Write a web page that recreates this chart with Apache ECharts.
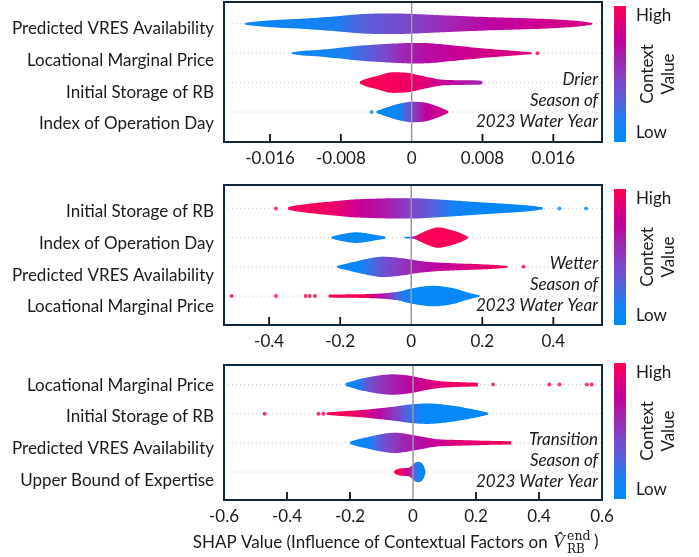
<!DOCTYPE html>
<html>
<head>
<meta charset="utf-8">
<script src="https://cdn.jsdelivr.net/npm/echarts@6/dist/echarts.min.js"></script>
<style>html,body{margin:0;padding:0;background:#fff}#c{width:699px;height:557px}</style>
</head>
<body>
<div id="c"></div>
<script>
// ---------- DATA ----------
const drierFeatures = ['Predicted VRES Availability', 'Locational Marginal Price', 'Initial Storage of RB', 'Index of Operation Day'];
const drierVRES = [[-0.0188,0.1,0.05],[-0.0175,0.22,0.06],[-0.0160,0.33,0.07],[-0.0122,0.5,0.1],[-0.0085,0.73,0.15],[-0.0066,0.88,0.25],[-0.0055,0.95,0.3],[-0.0021,1.0,0.4],[0.0,0.96,0.45],[0.0028,0.85,0.55],[0.0047,0.78,0.62],[0.0085,0.65,0.72],[0.0122,0.55,0.78],[0.0160,0.43,0.82],[0.0190,0.25,0.84],[0.0204,0.08,0.85]];
const drierLMP = [[-0.01355,0.08,0.05],[-0.0125,0.2,0.06],[-0.01035,0.33,0.08],[-0.0073,0.6,0.15],[-0.0066,0.67,0.22],[-0.0028,0.9,0.45],[-0.0013,0.96,0.58],[0.0,1.0,0.64],[0.0017,0.98,0.7],[0.0047,0.75,0.78],[0.0085,0.43,0.83],[0.0115,0.23,0.86],[0.01355,0.08,0.88]];
const drierStorage = [[-0.00584,0.12,0.98],[-0.0052,0.35,0.98],[-0.0041,0.6,0.98],[-0.0021,1.0,0.97],[-0.0006,0.95,0.95],[0.0017,0.55,0.88],[0.0032,0.3,0.8],[0.0047,0.24,0.72],[0.0065,0.22,0.65],[0.0077,0.2,0.6],[0.0080,0.1,0.6]];
const drierDay = [[-0.00395,0.1,0.04],[-0.0028,0.45,0.05],[-0.0013,0.83,0.1],[-0.0007,0.92,0.28],[0.0,1.0,0.42],[0.0009,0.97,0.62],[0.0017,0.88,0.75],[0.0032,0.45,0.83],[0.00413,0.1,0.85]];
const drierViolins = [[drierVRES], [drierLMP], [drierStorage], [drierDay]];
const drierOutliers = [[0.0142,1,0.95],[-0.00452,3,0.05]];
const drierTicks = [-0.016, -0.008, 0, 0.008, 0.016];
const drierTickLabels = ['-0.016', '-0.008', '0', '0.008', '0.016'];

const wetFeatures = ['Initial Storage of RB', 'Index of Operation Day', 'Predicted VRES Availability', 'Locational Marginal Price'];
const wetStorage = [[-0.3465,0.12,0.97],[-0.33,0.25,0.97],[-0.267,0.53,0.96],[-0.21,0.72,0.92],[-0.164,0.87,0.82],[-0.145,0.9,0.78],[-0.07,0.98,0.65],[0.0,1.0,0.45],[0.061,0.9,0.3],[0.117,0.78,0.12],[0.192,0.6,0.05],[0.285,0.4,0.04],[0.34,0.25,0.04],[0.370,0.1,0.04]];
const wetDayLow = [[-0.2246,0.1,0.03],[-0.2,0.3,0.03],[-0.1545,0.52,0.03],[-0.107,0.3,0.03],[-0.0729,0.1,0.03]];
const wetDayHigh = [[-0.0187,0.07,0.04],[-0.005,0.09,0.2],[0.008,0.12,0.7],[0.02,0.3,0.97],[0.045,0.7,0.98],[0.0749,1.0,0.98],[0.117,0.7,0.98],[0.145,0.35,0.98],[0.1592,0.1,0.98]];
const wetVRES = [[-0.2083,0.1,0.04],[-0.19,0.25,0.04],[-0.15,0.58,0.06],[-0.117,0.83,0.22],[-0.0796,1.0,0.38],[-0.0233,0.83,0.53],[0.0235,0.58,0.66],[0.0702,0.43,0.73],[0.136,0.33,0.83],[0.211,0.23,0.92],[0.25,0.15,0.95],[0.2716,0.08,0.97]];
const wetLMP = [[-0.2323,0.15,0.97],[-0.145,0.18,0.97],[-0.117,0.2,0.9],[-0.089,0.24,0.72],[-0.061,0.32,0.5],[-0.033,0.45,0.22],[-0.005,0.7,0.06],[0.061,1.0,0.04],[0.117,0.78,0.04],[0.164,0.3,0.04],[0.192,0.08,0.04]];
const wetViolins = [[wetStorage], [wetDayLow, wetDayHigh], [wetVRES], [wetLMP]];
const wetOutliers = [[-0.381,0,0.97],[0.417,0,0.04],[0.492,0,0.04],[0.3157,2,0.97],[-0.5057,3,0.97],[-0.381,3,0.97],[-0.2969,3,0.97],[-0.2857,3,0.97],[-0.2707,3,0.97]];
const wetTicks = [-0.4, -0.2, 0, 0.2, 0.4];
const wetTickLabels = ['-0.4', '-0.2', '0', '0.2', '0.4'];

const transFeatures = ['Locational Marginal Price', 'Initial Storage of RB', 'Predicted VRES Availability', 'Upper Bound of Expertise'];
const transLMP = [[-0.2136,0.15,0.06],[-0.19,0.35,0.08],[-0.166,0.57,0.18],[-0.1525,0.65,0.3],[-0.113,0.87,0.5],[-0.068,1.0,0.62],[-0.015,0.88,0.72],[0.048,0.5,0.84],[0.08,0.35,0.88],[0.111,0.28,0.92],[0.16,0.22,0.95],[0.2063,0.18,0.97]];
const transStorage = [[-0.274,0.12,0.97],[-0.24,0.2,0.97],[-0.2,0.28,0.96],[-0.163,0.36,0.9],[-0.11,0.52,0.72],[-0.058,0.7,0.5],[-0.015,0.88,0.25],[0.027,0.99,0.06],[0.05,1.0,0.04],[0.085,0.93,0.04],[0.148,0.67,0.04],[0.206,0.33,0.04],[0.238,0.1,0.04]];
const transVRES = [[-0.2,0.12,0.05],[-0.18,0.3,0.05],[-0.142,0.58,0.08],[-0.11,0.8,0.3],[-0.08,0.95,0.45],[-0.058,1.0,0.52],[-0.037,0.95,0.58],[0.016,0.68,0.68],[0.069,0.38,0.78],[0.148,0.28,0.88],[0.238,0.2,0.93],[0.29,0.17,0.96],[0.312,0.15,0.97]];
const transUpper = [[-0.06,0.1,0.97],[-0.048,0.3,0.97],[-0.03,0.38,0.92],[-0.015,0.4,0.78],[-0.005,0.6,0.55],[0.005,0.88,0.3],[0.016,1.0,0.1],[0.027,0.88,0.05],[0.035,0.55,0.04],[0.0396,0.1,0.04]];
const transViolins = [[transLMP], [transStorage], [transVRES], [transUpper]];
const transOutliers = [[0.254,0,0.97],[0.433,0,0.97],[0.465,0,0.97],[0.552,0,0.97],[0.567,0,0.97],[-0.471,1,0.97],[-0.300,1,0.97],[-0.2848,1,0.97]];
const transTicks = [-0.6, -0.4, -0.2, 0, 0.2, 0.4, 0.6];
const transTickLabels = ['-0.6', '-0.4', '-0.2', '0', '0.2', '0.4', '0.6'];

const colorbarLabels = ['High', 'Low'];
const colorbarTitle = ['Context', 'Value'];
const xTitle = 'SHAP Value (Influence of Contextual Factors on ';

// ---------- COLORMAP ----------
const cmapStops = [[0,'#008bfb'],[0.15,'#1a7ff3'],[0.3,'#5760dc'],[0.45,'#7e46c9'],[0.6,'#a126b2'],[0.75,'#bf009e'],[0.88,'#e00079'],[1,'#ff0051']];
function hex2rgb(h){return [parseInt(h.slice(1,3),16),parseInt(h.slice(3,5),16),parseInt(h.slice(5,7),16)];}
function cmap(v){
  v=Math.max(0,Math.min(1,v));
  for(let i=0;i<cmapStops.length-1;i++){
    const a=cmapStops[i],b=cmapStops[i+1];
    if(v<=b[0]){const t=(v-a[0])/(b[0]-a[0]);const ca=hex2rgb(a[1]),cb=hex2rgb(b[1]);
      return 'rgb('+ca.map((c,k)=>Math.round(c+(cb[k]-c)*t)).join(',')+')';}
  }
  return cmapStops[cmapStops.length-1][1];
}
function monotoneSample(xs, ys, n){
  const m=xs.length; const d=[],t=new Array(m).fill(0);
  for(let i=0;i<m-1;i++) d[i]=(ys[i+1]-ys[i])/(xs[i+1]-xs[i]);
  t[0]=d[0]; t[m-1]=d[m-2];
  for(let i=1;i<m-1;i++) t[i]=(d[i-1]*d[i]<=0)?0:(d[i-1]+d[i])/2;
  for(let i=0;i<m-1;i++){
    if(d[i]===0){t[i]=0;t[i+1]=0;continue;}
    const a=t[i]/d[i],b=t[i+1]/d[i],s=a*a+b*b;
    if(s>9){const tau=3/Math.sqrt(s);t[i]=tau*a*d[i];t[i+1]=tau*b*d[i];}
  }
  const out=[];
  for(let i=0;i<m-1;i++){
    const h=xs[i+1]-xs[i];
    for(let k=0;k<n;k++){
      const s=k/n, s2=s*s, s3=s2*s;
      const y=(2*s3-3*s2+1)*ys[i]+(s3-2*s2+s)*h*t[i]+(-2*s3+3*s2)*ys[i+1]+(s3-s2)*h*t[i+1];
      out.push([xs[i]+s*h, Math.max(0,y)]);
    }
  }
  out.push([xs[m-1],ys[m-1]]);
  return out;
}

// ---------- PANELS ----------
const FONT = 'Lato';
const FS = 17;
const panels = [
  {features:drierFeatures, violins:drierViolins, outliers:drierOutliers, ticks:drierTicks, tickLabels:drierTickLabels,
   xMin:-0.0212, xMax:0.0215, top:2, height:140, yMin:-1.02, yMax:3.74, lyMin:-0.568, lyMax:3.852,
   note:'Drier\nSeason of\n2023 Water Year', noteY:101, barTop:6, barH:136},
  {features:wetFeatures, violins:wetViolins, outliers:wetOutliers, ticks:wetTicks, tickLabels:wetTickLabels,
   xMin:-0.527, xMax:0.537, top:185, height:140, yMin:-0.99, yMax:3.80, lyMin:-0.578, lyMax:3.843,
   note:'Wetter\nSeason of\n2023 Water Year', noteY:285, barTop:189, barH:136},
  {features:transFeatures, violins:transViolins, outliers:transOutliers, ticks:transTicks, tickLabels:transTickLabels,
   xMin:-0.6, xMax:0.6, top:365, height:135, yMin:-0.96, yMax:3.67, lyMin:-0.632, lyMax:3.64,
   note:'Transition\nSeason of\n2023 Water Year', noteY:461, barTop:363, barH:136}
];

const grids=[], xAxes=[], yAxes=[], series=[], graphics=[];
panels.forEach((p, pi) => {
  const n = p.features.length;
  grids.push({left:224, top:p.top, width:378, height:p.height, show:false});
  xAxes.push({type:'value', gridIndex:pi, min:p.xMin, max:p.xMax, position:'bottom',
    axisLine:{show:false, onZero:false}, splitLine:{show:false}, axisTick:{show:false},
    axisLabel:{show:true, customValues:p.ticks, margin:8, color:'#1a1a1a', fontFamily:FONT, fontSize:FS,
      showMinLabel:true, showMaxLabel:true,
      formatter:(v)=>{const k=p.ticks.findIndex(t=>Math.abs(t-v)<1e-9);return k>=0?p.tickLabels[k]:'';}}
  });
  yAxes.push({type:'value', gridIndex:pi, min:p.yMin, max:p.yMax, show:false, axisLine:{onZero:false}});
  yAxes.push({type:'value', gridIndex:pi, min:p.lyMin, max:p.lyMax, position:'left',
    axisLine:{show:false, onZero:false}, axisTick:{show:false}, splitLine:{show:false},
    axisLabel:{customValues:[0,1,2,3].slice(0,n), margin:10, color:'#1a1a1a', fontFamily:FONT, fontSize:FS,
      formatter:(v)=>p.features[n-1-Math.round(v)]}
  });
  const items=[];
  p.violins.forEach((pieces,i)=>pieces.forEach((_,j)=>items.push([i,j])));
  series.push({type:'custom', xAxisIndex:pi, yAxisIndex:pi*2, z:2, silent:true, data:items,
    renderItem:(params, api)=>{
      const i=api.value(0), j=api.value(1);
      const prof=p.violins[i][j];
      const row=n-1-i;
      const rowPx=Math.abs(api.size([0,1])[1]);
      const halfMax=0.35*rowPx;
      const cs=params.coordSys;
      const yc=api.coord([0,row])[1];
      const samp=monotoneSample(prof.map(q=>q[0]), prof.map(q=>q[1]), 12);
      const topPts=[], botPts=[];
      samp.forEach(([x,w])=>{const px=api.coord([x,row])[0];topPts.push([px,yc-w*halfMax]);botPts.push([px,yc+w*halfMax]);});
      const pts=topPts.concat(botPts.reverse());
      const px0=api.coord([prof[0][0],row])[0], px1=api.coord([prof[prof.length-1][0],row])[0];
      const stops=prof.map(q=>({offset:Math.max(0,Math.min(1,(api.coord([q[0],row])[0]-px0)/(px1-px0))), color:cmap(q[2])}));
      const children=[];
      if(j===0) children.push({type:'line', shape:{x1:cs.x, y1:yc, x2:cs.x+cs.width, y2:yc}, style:{stroke:'#c8c8c8', lineWidth:1, lineDash:[1,3]}});
      children.push({type:'polygon', shape:{points:pts}, style:{fill:{type:'linear', x:px0, y:0, x2:px1, y2:0, global:true, colorStops:stops}}});
      return {type:'group', children};
    }
  });
  series.push({type:'scatter', xAxisIndex:pi, yAxisIndex:pi*2, z:3, silent:true, symbolSize:4,
    data:p.outliers.map(o=>[o[0], n-1-o[1], o[2]]),
    itemStyle:{color:(prm)=>cmap(prm.data[2])}
  });
  // frame, zero line and inward ticks, all placed through the axis scales
  series.push({type:'custom', xAxisIndex:pi, yAxisIndex:pi*2, z:10, silent:true, clip:false,
    data:[[0, 0]],
    renderItem:(params, api)=>{
      const x0=api.coord([p.xMin, p.yMin]), x1=api.coord([p.xMax, p.yMax]);
      const left=x0[0], bottom=x0[1], right=x1[0], top=x1[1];
      const children=[];
      const zx=api.coord([0, p.yMin])[0];
      children.push({type:'line', shape:{x1:zx,y1:top,x2:zx,y2:bottom}, style:{stroke:'#9a9a9a', lineWidth:1.5}});
      p.ticks.forEach(t=>{
        if (t===0) return;
        const tx=api.coord([t, p.yMin])[0];
        children.push({type:'line', shape:{x1:tx,y1:bottom,x2:tx,y2:bottom-8}, style:{stroke:'#111111', lineWidth:1.8}});
      });
      children.push({type:'rect', shape:{x:left, y:top, width:right-left, height:bottom-top}, style:{fill:null, stroke:'#10263a', lineWidth:2}});
      return {type:'group', children};
    }
  });
  graphics.push({type:'text', x:598, y:p.noteY, z:10, style:{text:p.note, align:'right', verticalAlign:'middle',
    fontFamily:FONT, fontStyle:'italic', fontSize:FS, lineHeight:21, fill:'#1a1a1a'}});
  graphics.push({type:'rect', shape:{x:614, y:p.barTop, width:12, height:p.barH},
    style:{fill:{type:'linear', x:0, y:1, x2:0, y2:0, colorStops:cmapStops.map(s=>({offset:s[0], color:s[1]}))}}});
  graphics.push({type:'text', x:636, y:p.barTop+10, style:{text:colorbarLabels[0], align:'left', verticalAlign:'middle', fontFamily:FONT, fontSize:FS, fill:'#1a1a1a'}});
  graphics.push({type:'text', x:636, y:p.barTop+p.barH-9, style:{text:colorbarLabels[1], align:'left', verticalAlign:'middle', fontFamily:FONT, fontSize:FS, fill:'#1a1a1a'}});
  graphics.push({type:'text', x:648, y:p.barTop+p.barH/2, rotation:Math.PI/2, style:{text:colorbarTitle[0], align:'center', verticalAlign:'middle', fontFamily:FONT, fontSize:FS, fill:'#1a1a1a'}});
  graphics.push({type:'text', x:669, y:p.barTop+p.barH/2, rotation:Math.PI/2, style:{text:colorbarTitle[1], align:'center', verticalAlign:'middle', fontFamily:FONT, fontSize:FS, fill:'#1a1a1a'}});
});

graphics.push({type:'text', x:552, y:543, style:{text:xTitle, align:'right', verticalAlign:'middle', fontFamily:FONT, fontSize:FS, fill:'#1a1a1a'}});
graphics.push({type:'text', x:553, y:543, style:{text:'V\u0302', align:'left', verticalAlign:'middle', fontFamily:'Liberation Serif', fontStyle:'italic', fontSize:19, fill:'#1a1a1a'}});
graphics.push({type:'text', x:567, y:537, style:{text:'end', align:'left', verticalAlign:'middle', fontFamily:'DejaVu Serif', fontSize:12.5, fill:'#1a1a1a'}});
graphics.push({type:'text', x:567, y:550, style:{text:'RB', align:'left', verticalAlign:'middle', fontFamily:'DejaVu Serif', fontSize:12, fill:'#1a1a1a'}});
graphics.push({type:'text', x:594, y:542, style:{text:')', align:'left', verticalAlign:'middle', fontFamily:FONT, fontSize:FS, fill:'#1a1a1a'}});

const chart = echarts.init(document.getElementById('c'), null, {renderer:'canvas'});
chart.setOption({
  backgroundColor:'#ffffff',
  animation:false,
  grid:grids, xAxis:xAxes, yAxis:yAxes, series:series, graphic:graphics
});
</script>
</body>
</html>
